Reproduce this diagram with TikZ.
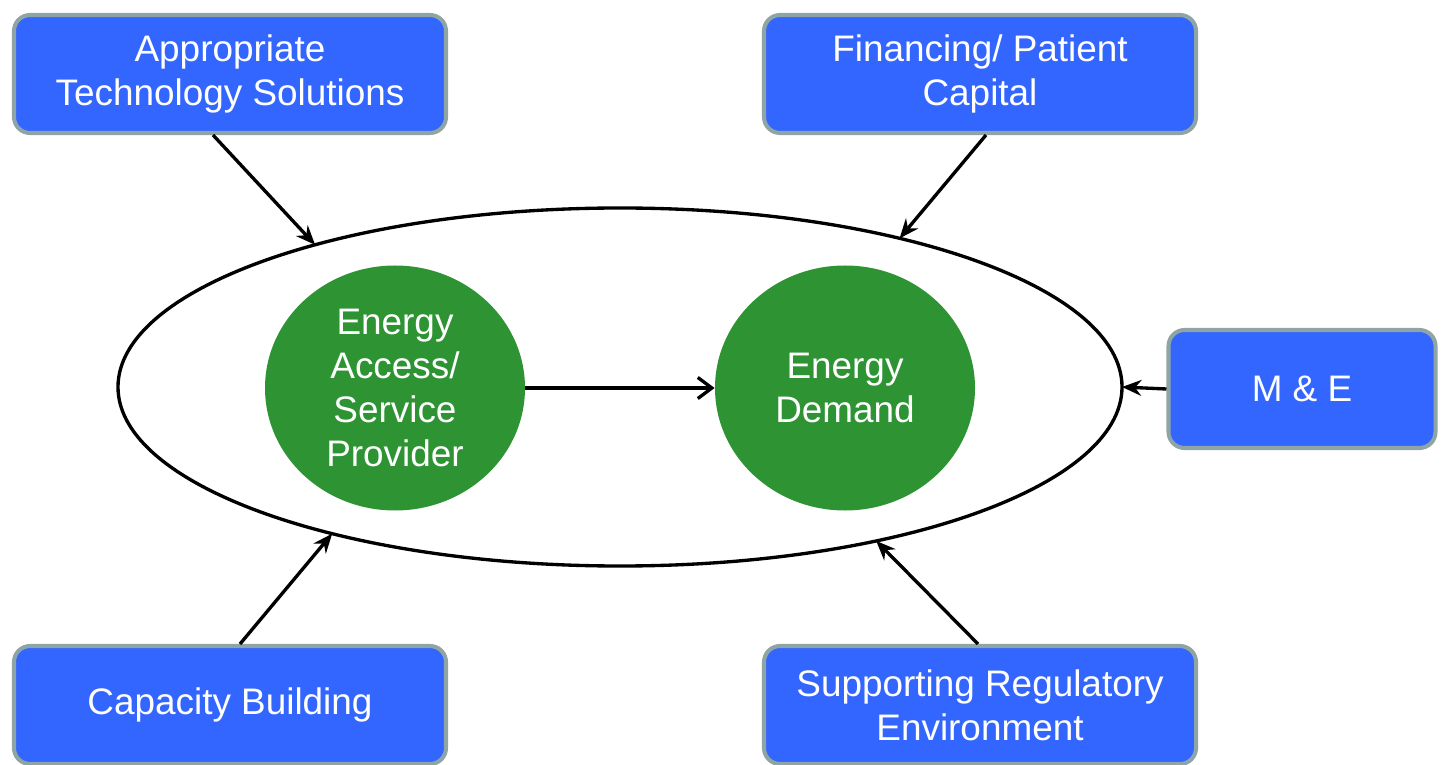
\documentclass[tikz,border=0pt]{standalone}
\usepackage{fontspec}
\setmainfont{Liberation Sans}
\usetikzlibrary{arrows.meta}
\usetikzlibrary{shapes.geometric}
\definecolor{boxblue}{HTML}{3366FF}
\definecolor{boxgray}{HTML}{8FA5A5}
\definecolor{nodegreen}{HTML}{2E9433}
\tikzset{
 outbox/.style={draw=boxgray, fill=boxblue, line width=2.3pt, rounded corners=.32cm, text=white, align=center, minimum width=8.64cm, minimum height=2.36cm, inner sep=0, font=\fontsize{21}{25}\selectfont},
 inbubble/.style={ellipse, fill=nodegreen, text=white, align=center, minimum width=5.2cm, minimum height=4.9cm, inner sep=0, font=\fontsize{21}{25}\selectfont},
 feed/.style={black, line width=1.9pt, -{Stealth[length=11pt,width=9pt]}},
}
\begin{document}
\begin{tikzpicture}[x=.2mm,y=-.2mm]
\useasboundingbox (0,0) rectangle (1444,765);
\node[ellipse, draw=black, line width=1.9pt, minimum width=20.08cm, minimum height=7.16cm, inner sep=0, outer sep=0] (ell) at (620,387) {};
\node[inbubble] (provider) at (395,388) {Energy\\Access/\\Service\\Provider};
\node[inbubble] (demand) at (845,388) {Energy\\Demand};
\node[outbox] (tech) at (230,74) {Appropriate\\Technology Solutions};
\node[outbox] (finance) at (980,74) {Financing/ Patient\\Capital};
\node[outbox, minimum width=5.34cm] (mande) at (1302,389) {M \& E};
\node[outbox] (capacity) at (230,705) {Capacity Building};
\node[outbox] (regulatory) at (980,705) {Supporting Regulatory\\Environment};
\draw[black, line width=1.9pt, -{Straight Barb[length=8pt,width=12pt]}] (provider) -- (demand);
\draw[feed] ([xshift=-.34cm]tech.south) -- (ell.155);
\draw[feed] ([xshift=.12cm]finance.south) -- (ell.28.3);
\draw[feed] (mande.west) -- (ell.0);
\draw[feed] ([xshift=.2cm]capacity.north) -- (ell.207.6);
\draw[feed] ([xshift=-.04cm]regulatory.north) -- (ell.329.9);
\end{tikzpicture}
\end{document}
